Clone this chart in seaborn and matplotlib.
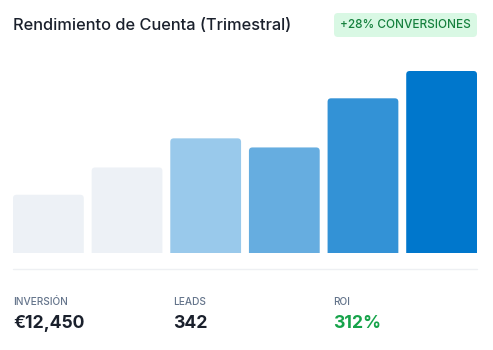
import matplotlib
matplotlib.use("Agg")
import matplotlib.pyplot as plt
from matplotlib.patches import FancyBboxPatch
import seaborn as sns
import pandas as pd

# ---- data ----
periodos = ["P1", "P2", "P3", "P4", "P5", "P6"]
rendimiento = [32, 47, 63, 58, 85, 100]
colores_barras = ["#EDF1F6", "#EDF1F6", "#99C9EB", "#66ADE0", "#3392D6", "#0077CC"]

titulo = "Rendimiento de Cuenta (Trimestral)"
insignia = "+28% CONVERSIONES"
kpi_etiquetas = ["INVERSIÓN", "LEADS", "ROI"]
kpi_valores = ["€12,450", "342", "312%"]
kpi_colores = ["#1A202C", "#1A202C", "#16A34A"]

W, H = 493, 350
DPI = 100

sns.set_theme(style="white")
plt.rcParams["font.family"] = ["Inter", "DejaVu Sans"]

fig = plt.figure(figsize=(W / DPI, H / DPI), dpi=DPI)
fig.patch.set_facecolor("white")

def fx(px):
    return px / W

def fy(py):
    return 1 - py / H

# chart axes
left, right, top, bottom = 13, 477, 71, 253
ax = fig.add_axes([fx(left), fy(bottom), fx(right - left), (bottom - top) / H])
df = pd.DataFrame({"periodo": periodos, "valor": rendimiento})
sns.barplot(data=df, x="periodo", y="valor", hue="periodo", palette=colores_barras,
            legend=False, width=0.9, ax=ax, saturation=1)
ax.set_xlim(-0.45, len(periodos) - 1 + 0.45)
ax.set_ylim(0, 100)
ax.axis("off")

# replace bars with top-rounded versions
fig.canvas.draw()
x0d, y0d = ax.transData.transform((0, 0))
x1d, y1d = ax.transData.transform((1, 1))
px_per_x = (x1d - x0d)
px_per_y = (y1d - y0d)
radius_px = 3.5
r = radius_px / px_per_x
aspect = px_per_x / px_per_y
for p in list(ax.patches):
    x, w, h = p.get_x(), p.get_width(), p.get_height()
    fc = p.get_facecolor()
    p.remove()
    extra = 10
    box = FancyBboxPatch((x, -extra), w, h + extra,
                         boxstyle=f"round,pad=0,rounding_size={r}",
                         mutation_aspect=aspect, facecolor=fc, edgecolor="none",
                         clip_on=True)
    ax.add_patch(box)

# title
fig.text(fx(13), fy(25), titulo, fontsize=11.8, fontweight="medium",
         color="#1A202C", ha="left", va="center")

# badge
bx0, bx1, by0, by1 = 334, 477, 13, 37
badge = FancyBboxPatch((bx0 / DPI, (H - by1) / DPI), (bx1 - bx0) / DPI, (by1 - by0) / DPI,
                       boxstyle="round,pad=0,rounding_size=0.04",
                       transform=fig.dpi_scale_trans, facecolor="#D9F8E4",
                       edgecolor="none")
fig.add_artist(badge)
fig.text(fx((bx0 + bx1) / 2), fy(25), insignia, fontsize=8.5, fontweight="medium",
         color="#15803D", ha="center", va="center")

# separator
fig.add_artist(plt.Line2D([fx(13), fx(477)], [fy(269), fy(269)],
                          transform=fig.transFigure, color="#EEF0F3", linewidth=1))

# KPIs
kpi_x = [13, 173, 333]
for xp, lab, val, col in zip(kpi_x, kpi_etiquetas, kpi_valores, kpi_colores):
    fig.text(fx(xp), fy(302), lab, fontsize=7.3, fontweight="medium", color="#64748B",
             ha="left", va="center")
    fig.text(fx(xp), fy(323.5), val, fontsize=12.7, fontweight="bold",
             color=col, ha="left", va="center")

fig.savefig("out.png", dpi=DPI)
